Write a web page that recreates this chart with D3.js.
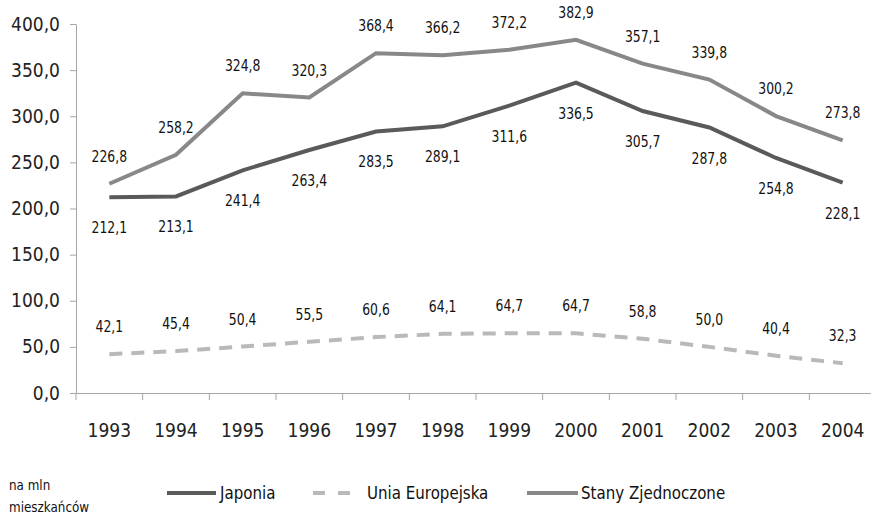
<!DOCTYPE html>
<html>
<head>
<meta charset="utf-8">
<script src="https://cdn.jsdelivr.net/npm/d3@7"></script>
<style>
  body { margin: 0; background: #fff; }
  svg { display: block; }
  text { font-family: "Liberation Sans Narrow", "DejaVu Sans Condensed", sans-serif; }
</style>
</head>
<body>
<svg class="chart"></svg>
<script>
// data
var years = ["1993","1994","1995","1996","1997","1998","1999","2000","2001","2002","2003","2004"];
var japonia = [212.1, 213.1, 241.4, 263.4, 283.5, 289.1, 311.6, 336.5, 305.7, 287.8, 254.8, 228.1];
var uniaEuropejska = [42.1, 45.4, 50.4, 55.5, 60.6, 64.1, 64.7, 64.7, 58.8, 50.0, 40.4, 32.3];
var stanyZjednoczone = [226.8, 258.2, 324.8, 320.3, 368.4, 366.2, 372.2, 382.9, 357.1, 339.8, 300.2, 273.8];
var yTicks = [0, 50, 100, 150, 200, 250, 300, 350, 400];

var series = [
  {name: "Japonia", values: japonia, color: "#5a5a5a", dash: null, labelDy: 36},
  {name: "Unia Europejska", values: uniaEuropejska, color: "#b9b9b9", dash: "13,9", labelDy: -22},
  {name: "Stany Zjednoczone", values: stanyZjednoczone, color: "#888888", dash: null, labelDy: -22}
];

var W = 871, H = 516;
var margin = {top: 24, left: 76, bottom: 123, right: -5};

var svg = d3.select("svg.chart").attr("width", W).attr("height", H);

var x = d3.scaleBand().domain(years).range([margin.left, W - margin.right]);
var y = d3.scaleLinear().domain([0, 400]).range([H - margin.bottom, margin.top]);

var fmt = function(v) { return d3.format(".1f")(v).replace(".", ","); };

// squeezed text (the original uses a narrow font)
function narrowText(g, tx, ty, txt, size, sx) {
  return g.append("text")
    .attr("transform", "translate(" + tx + "," + ty + ") scale(" + sx + ",1)")
    .style("font-size", size + "px")
    .attr("fill", "#111")
    .text(txt);
}

// y axis
var yAxis = svg.append("g")
  .attr("transform", "translate(" + margin.left + ",0)")
  .call(d3.axisLeft(y).tickValues(yTicks).tickSize(6).tickSizeOuter(0).tickFormat(fmt));
yAxis.selectAll("line, path").attr("stroke", "#a6a6a6");
yAxis.selectAll("text")
  .attr("x", -16)
  .style("font-size", "19px")
  .attr("fill", "#222");

// x axis
var xAxis = svg.append("g")
  .attr("transform", "translate(0," + y(0) + ")")
  .call(d3.axisBottom(x).tickSize(0).tickSizeOuter(0));
xAxis.select("path").attr("stroke", "#a6a6a6");
xAxis.selectAll("text")
  .attr("y", 31)
  .style("font-size", "19px")
  .attr("fill", "#222");
// tick marks between categories
xAxis.selectAll("line.sep")
  .data(years)
  .enter().append("line")
  .attr("class", "sep")
  .attr("x1", function(d) { return x(d); })
  .attr("x2", function(d) { return x(d); })
  .attr("y1", 0).attr("y2", 7)
  .attr("stroke", "#a6a6a6");

var line = d3.line()
  .x(function(d, i) { return x(years[i]) + x.bandwidth() / 2; })
  .y(function(d) { return y(d); });

// lines
svg.selectAll("path.series")
  .data(series)
  .enter().append("path")
  .attr("class", "series")
  .attr("d", function(s) { return line(s.values); })
  .attr("fill", "none")
  .attr("stroke", function(s) { return s.color; })
  .attr("stroke-width", 4)
  .attr("stroke-dasharray", function(s) { return s.dash; });

// data labels
series.forEach(function(s) {
  svg.append("g").selectAll("text")
    .data(s.values)
    .enter().append("text")
    .attr("transform", function(d, i) {
      return "translate(" + (x(years[i]) + x.bandwidth() / 2) + "," + (y(d) + s.labelDy) + ") scale(0.92,1)";
    })
    .attr("text-anchor", "middle")
    .style("font-size", "15px")
    .attr("fill", "#111")
    .text(fmt);
});

// legend
var legend = svg.append("g");
narrowText(legend, 9, 490, "na mln", 14, 0.95);
narrowText(legend, 9, 512, "mieszkańców", 14, 0.95);

var legendItems = [
  {s: series[0], x1: 167, x2: 216, tx: 220},
  {s: series[1], x1: 313, x2: 351, tx: 367},
  {s: series[2], x1: 527, x2: 578, tx: 581}
];
legendItems.forEach(function(l) {
  legend.append("line")
    .attr("x1", l.x1).attr("x2", l.x2)
    .attr("y1", 493).attr("y2", 493)
    .attr("stroke", l.s.color)
    .attr("stroke-width", 4)
    .attr("stroke-dasharray", l.s.dash ? "12,13" : null);
  narrowText(legend, l.tx, 499, l.s.name, 18, 0.93);
});
</script>
</body>
</html>
